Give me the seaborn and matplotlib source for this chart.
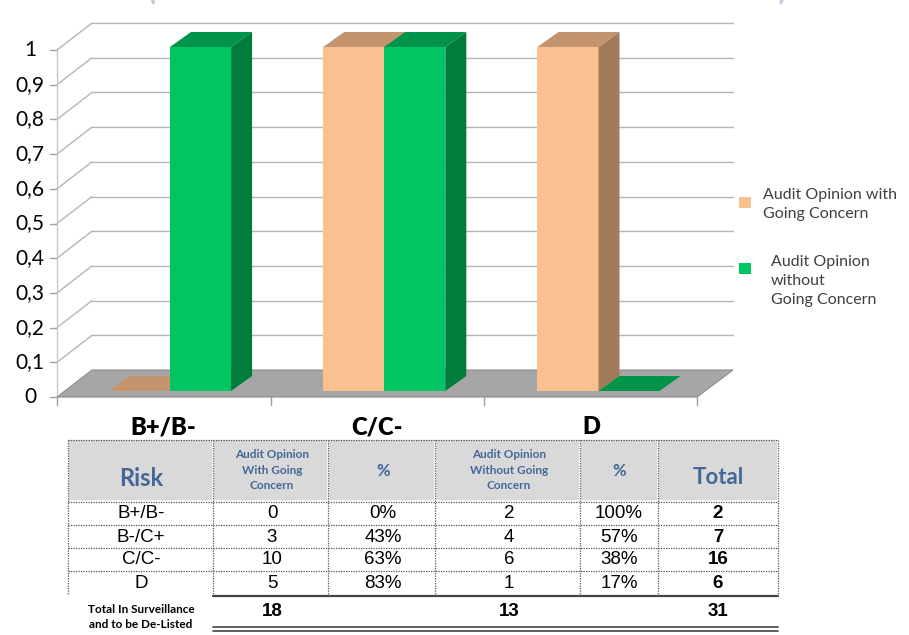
import numpy as np
import pandas as pd
import matplotlib
matplotlib.use("Agg")
import matplotlib.pyplot as plt
from matplotlib.patches import Polygon, Rectangle
import seaborn as sns

sns.set_style("white")
plt.rcParams["font.family"] = ["Lato", "DejaVu Sans"]

# chart data
categories = ["B+/B-", "C/C-", "D"]
with_gc = [0, 1, 1]
without_gc = [1, 1, 0]
series_names = ["Audit Opinion with Going Concern", "Audit Opinion without Going Concern"]
legend_labels = ["Audit Opinion with\nGoing Concern", "Audit Opinion\nwithout\nGoing Concern"]
y_ticks = [0, 0.1, 0.2, 0.3, 0.4, 0.5, 0.6, 0.7, 0.8, 0.9, 1]
y_tick_labels = ["0", "0,1", "0,2", "0,3", "0,4", "0,5", "0,6", "0,7", "0,8", "0,9", "1"]

# table data
table_risk = ["B+/B-", "B-/C+", "C/C-", "D"]
table_with = [0, 3, 10, 5]
table_with_pct = ["0%", "43%", "63%", "83%"]
table_without = [2, 4, 6, 1]
table_without_pct = ["100%", "57%", "38%", "17%"]
table_total = [2, 7, 16, 6]
total_with, total_without, total_all = 18, 13, 31

front = ["#FAC090", "#00C563"]
top = ["#C3946E", "#00944A"]
side = ["#A27B5A", "#007D3C"]
header_blue = "#44679a"

df = pd.DataFrame({
    "category": categories * 2,
    "value": with_gc + without_gc,
    "series": [series_names[0]] * 3 + [series_names[1]] * 3,
})

W, H = 909, 635
fig = plt.figure(figsize=(W / 100, H / 100), dpi=100)

# chart axes covers the upper part of the picture, pixel -> data helpers
ax = fig.add_axes([0, 1 - 435 / H, 1, 435 / H])
sx, x0px = 214.25, 170
sy, y0px = 344, 391
X = lambda px: (px - x0px) / sx
Y = lambda py: (y0px - py) / sy

# floor and walls
floor = [(57, 397), (697, 397), (733, 370), (92, 370)]
ax.add_patch(Polygon([(X(a), Y(b)) for a, b in floor], closed=True,
                     facecolor="#a6a6a6", edgecolor="#8c8c8c", lw=0.8, zorder=1))
wall_dx, wall_dy = 35, 27
for v, lab in zip(y_ticks, y_tick_labels):
    fy = 397 - 347 * v
    if v > 0:
        ax.plot([X(57), X(57 + wall_dx)], [Y(fy), Y(fy - wall_dy)], color="#b5b5b5", lw=1, zorder=0.5)
        ax.plot([X(57 + wall_dx), X(733)], [Y(fy - wall_dy)] * 2, color="#b5b5b5", lw=1, zorder=0.5)
    ax.plot([X(50), X(57)], [Y(fy)] * 2, color="#a0a0a0", lw=1, zorder=0.5)
    ax.text(X(30), Y(fy), lab, ha="center", va="center", fontsize=15, color="black")
ax.plot([X(57), X(57)], [Y(397), Y(50)], color="#c8c8c8", lw=1, zorder=0.5)
for px in [57, 271, 484, 697]:
    ax.plot([X(px), X(px)], [Y(397), Y(405)], color="#a0a0a0", lw=1, zorder=0.5)

# bars through seaborn, then the 3d faces from each bar
sns.barplot(data=df, x="category", y="value", hue="series", order=categories,
            hue_order=series_names, palette=front, width=0.57, saturation=1,
            edgecolor="none", legend=False, ax=ax)
ax.set_xlim(X(0), X(W))
ax.set_ylim(Y(435), Y(0))
ax.axis("off")
ddx, ddy = 21 / sx, 15 / sy
for k, cont in enumerate(ax.containers):
    for p in cont:
        bx, bw, bh = p.get_x(), p.get_width(), p.get_height()
        p.set_zorder(3 + k)
        ax.add_patch(Polygon([(bx, bh), (bx + bw, bh), (bx + bw + ddx, bh + ddy), (bx + ddx, bh + ddy)],
                             closed=True, facecolor=top[k], edgecolor="none", zorder=3 + k))
        if bh > 0:
            ax.add_patch(Polygon([(bx + bw, 0), (bx + bw + ddx, ddy), (bx + bw + ddx, bh + ddy), (bx + bw, bh)],
                                 closed=True, facecolor=side[k], edgecolor="none", zorder=3 + k))

for i, c in enumerate(categories):
    ax.text(i - 7 / sx, Y(427), c, ha="center", va="center", fontsize=17,
            fontweight="heavy", color="black")

# legend
ax.add_patch(Rectangle((X(739), Y(208)), 12 / sx, 11 / sy, facecolor=front[0], edgecolor="none"))
ax.add_patch(Rectangle((X(739), Y(274)), 12 / sx, 11 / sy, facecolor=front[1], edgecolor="none"))
ax.text(X(763), Y(188), legend_labels[0], ha="left", va="top", fontsize=11.5,
        color="#404040", linespacing=1.45)
ax.text(X(771), Y(255), legend_labels[1], ha="left", va="top", fontsize=11.5,
        color="#404040", linespacing=1.45)

# heading that the source picture cuts at its top edge
ax.text(X(467), Y(-8), "(Banks in Surveillance and Banks to be De-Listed)", ha="center",
        va="center", fontsize=21, fontweight="bold", color="#bcc7da")

# table drawn in pixel coordinates
tx = fig.add_axes([0, 0, 1, 1 - 435 / H])
tx.set_xlim(0, W)
tx.set_ylim(H, 435)
tx.axis("off")

cols = [68, 213, 328, 435, 580, 658, 778]
centers = [141, 272, 383, 509, 619, 718]
for a, b in zip(cols[:-1], cols[1:]):
    tx.add_patch(Rectangle((a + 1, 440), b - a - 2, 60, facecolor="#d9d9d9", edgecolor="none"))
dot = dict(color="#555555", lw=0.9, linestyle=(0, (1, 1)))
for yy in [440, 502, 525, 548, 571]:
    tx.plot([cols[0], cols[-1]], [yy, yy], **dot)
for xx in cols:
    tx.plot([xx, xx], [440, 595], **dot)
tx.plot([cols[1], cols[-1]], [596, 596], color="#444444", lw=1.6)
tx.plot([cols[1], cols[-1]], [627, 627], color="#444444", lw=1.2)
tx.plot([cols[1], cols[-1]], [631, 631], color="#444444", lw=1.2)

tx.text(centers[0], 478, "Risk", ha="center", va="center", fontsize=17, fontweight="bold", color=header_blue)
tx.text(centers[1], 470, "Audit Opinion\nWith Going\nConcern", ha="center", va="center",
        fontsize=8.5, fontweight="bold", color=header_blue, linespacing=1.5)
tx.text(centers[2], 471, "%", ha="center", va="center", fontsize=12, fontweight="bold", color=header_blue)
tx.text(centers[3], 470, "Audit Opinion\nWithout Going\nConcern", ha="center", va="center",
        fontsize=8.5, fontweight="bold", color=header_blue, linespacing=1.5)
tx.text(centers[4], 471, "%", ha="center", va="center", fontsize=12, fontweight="bold", color=header_blue)
tx.text(centers[5], 478, "Total", ha="center", va="center", fontsize=16, fontweight="bold", color=header_blue)

narrow = ["Liberation Sans Narrow", "Liberation Sans", "DejaVu Sans"]
rows_y = [514, 537, 560, 583]
for r, yy in enumerate(rows_y):
    vals = [table_risk[r], table_with[r], table_with_pct[r], table_without[r], table_without_pct[r]]
    for cx, v in zip(centers[:5], vals):
        tx.text(cx, yy, str(v), ha="center", va="center", fontsize=13.5, family=narrow, color="black")
    tx.text(centers[5], yy, str(table_total[r]), ha="center", va="center", fontsize=13.5,
            family=narrow, fontweight="bold", color="black")

tx.text(centers[0], 617, "Total In Surveillance\nand to be De-Listed", ha="center", va="center",
        fontsize=8.5, fontweight="bold", color="black", linespacing=1.4)
for cx, v in zip([centers[1], centers[3], centers[5]], [total_with, total_without, total_all]):
    tx.text(cx, 612, str(v), ha="center", va="center", fontsize=13.5, family=narrow,
            fontweight="bold", color="black")

fig.savefig("out.png", dpi=100, facecolor="white")
